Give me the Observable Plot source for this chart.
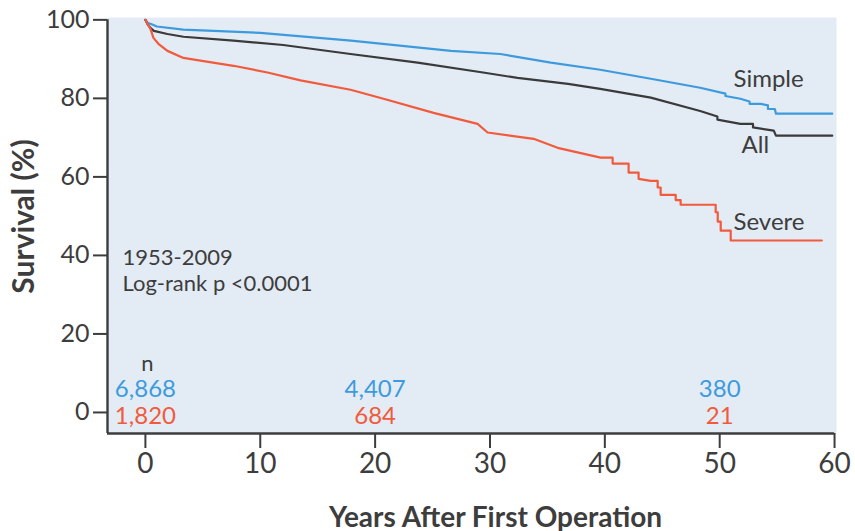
<!DOCTYPE html>
<html>
<head>
<meta charset="utf-8">
<script src="https://cdn.jsdelivr.net/npm/d3@7"></script>
<script src="https://cdn.jsdelivr.net/npm/@observablehq/plot@0.6"></script>
<style>
  html, body { margin: 0; padding: 0; background: #ffffff; }
  #chart svg { display: block; }
</style>
</head>
<body>
<div id="chart"></div>
<script>
// ---- Data (years after first operation, survival %) ----
const simpleYears = [0, 0.2, 0.44, 1, 3.3, 10, 17.9, 26.6, 30.9, 35.3, 39.6, 44.0, 48.3, 50.5, 50.5, 51.8, 52.6, 52.6, 53.6, 54.2, 54.2, 54.8, 54.9, 59.8];
const simpleSurv  = [100, 99.2, 99.0, 98.3, 97.5, 96.7, 94.7, 92.1, 91.3, 89.1, 87.3, 85.0, 82.7, 81.2, 80.6, 79.9, 79.2, 78.6, 78.6, 78.2, 77.3, 77.3, 76.1, 76.1];

const allYears = [0, 0.2, 0.44, 0.73, 1.92, 3.31, 7.67, 12.0, 17.86, 23.7, 29.4, 32.4, 36.8, 39.6, 44.0, 48.3, 49.8, 49.8, 51.8, 52.9, 52.9, 54.7, 54.9, 59.8];
const allSurv  = [100, 98.8, 98.0, 97.2, 96.4, 95.7, 94.7, 93.6, 91.3, 89.1, 86.6, 85.2, 83.7, 82.4, 80.2, 76.8, 75.4, 74.6, 73.5, 73.5, 72.6, 71.8, 70.5, 70.5];

const severeYears = [0, 0.44, 0.70, 1.13, 1.92, 3.31, 4.79, 7.67, 10.63, 13.5, 17.86, 20.73, 25.09, 28.92, 29.79, 33.80, 35.89, 39.63,
                     40.68, 40.68, 42.07, 42.07, 42.94, 42.94, 43.99, 44.60, 44.60, 44.86, 44.86, 46.17, 46.17, 46.60, 46.60,
                     49.65, 49.65, 49.83, 49.83, 50.09, 50.09, 50.96, 50.96, 58.89];
const severeSurv  = [100, 97.7, 95.4, 93.9, 92.1, 90.3, 89.6, 88.3, 86.6, 84.6, 82.2, 79.9, 76.3, 73.5, 71.3, 69.7, 67.4, 64.9,
                     64.9, 63.4, 63.4, 61.1, 61.1, 59.5, 59.0, 59.0, 57.3, 57.3, 55.4, 55.4, 54.1, 54.1, 52.9,
                     52.9, 51.0, 51.0, 48.6, 48.6, 46.3, 46.3, 43.8, 43.8];

const seriesNames  = ["Simple", "All", "Severe"];
const seriesColors = ["#3d9bdd", "#3a3a3a", "#f25a3c"];
const labelYears   = [51.2, 51.9, 51.2];
const labelSurv    = [82.8, 66.0, 46.4];

const nYears   = [0, 20, 50];
const nSimple  = ["6,868", "4,407", "380"];
const nSevere  = ["1,820", "684", "21"];

const xTicks = [0, 10, 20, 30, 40, 50, 60];
const yTicks = [0, 20, 40, 60, 80, 100];

const periodText = "1953-2009";
const pText = "Log-rank p <0.0001";
const xTitle = "Years After First Operation";
const yTitle = "Survival (%)";

// ---- Build tables ----
const toRows = (name, ts, ss) => ts.map((t, i) => ({series: name, t, s: ss[i]}));
const curves = [
  ...toRows("Simple", simpleYears, simpleSurv),
  ...toRows("All", allYears, allSurv),
  ...toRows("Severe", severeYears, severeSurv)
];
const labels = seriesNames.map((name, i) => ({name, t: labelYears[i], s: labelSurv[i]}));
const nRows = nYears.map((t, i) => ({t, simple: nSimple[i], severe: nSevere[i]}));

const xMin = -3.3, xMax = 60.17, yMin = -5.36, yMax = 100.6;
const ink = "#3d3d3d";

const chart = Plot.plot({
  width: 855,
  height: 531,
  marginLeft: 107,
  marginRight: 19,
  marginTop: 17,
  marginBottom: 98,
  style: {fontFamily: "Lato, 'Open Sans', sans-serif", color: ink, background: "#ffffff"},
  x: {domain: [xMin, xMax]},
  y: {domain: [yMin, yMax]},
  color: {domain: seriesNames, range: seriesColors},
  marks: [
    Plot.frame({fill: "#e3ebf5", stroke: "none"}),
    Plot.ruleX([xMin], {y1: yMin, y2: 100, stroke: ink, strokeWidth: 2.4}),
    Plot.ruleY([yMin], {x1: xMin, x2: 60, stroke: ink, strokeWidth: 2.4}),
    Plot.axisX({ticks: xTicks, tickSize: 15, tickPadding: 5, fontSize: 28, strokeWidth: 2, label: null, tickFormat: d => String(d)}),
    Plot.axisY({ticks: yTicks, tickSize: 14, tickPadding: 4, fontSize: 25, strokeWidth: 2, label: null, tickFormat: d => String(d)}),
    Plot.line(curves, {x: "t", y: "s", z: "series", stroke: "series", strokeWidth: 2.2, curve: "linear"}),
    Plot.text(labels, {x: "t", y: "s", text: "name", textAnchor: "start", lineAnchor: "bottom", fontSize: 24, fill: ink}),
    Plot.text([periodText + "\n" + pText], {frameAnchor: "top-left", dx: 15, dy: 273.7, textAnchor: "start", lineAnchor: "bottom", lineHeight: 1.17, fontSize: 22, fill: ink}),
    Plot.text(["n"], {frameAnchor: "bottom", x: () => 0, dx: 2, dy: -63, lineAnchor: "bottom", fontSize: 22, fill: ink}),
    Plot.text(nRows, {frameAnchor: "bottom", x: "t", text: "simple", dy: -36.3, lineAnchor: "bottom", fontSize: 24, fill: seriesColors[0]}),
    Plot.text(nRows, {frameAnchor: "bottom", x: "t", text: "severe", dy: -10, lineAnchor: "bottom", fontSize: 24, fill: seriesColors[2]}),
    Plot.text([xTitle], {frameAnchor: "bottom", dx: 23.5, dy: 93, textAnchor: "middle", lineAnchor: "bottom", fontSize: 28, fontWeight: "bold", fill: ink}),
    Plot.text([yTitle], {frameAnchor: "left", dx: -73.5, dy: -9, rotate: -90, textAnchor: "middle", lineAnchor: "bottom", fontSize: 30, fontWeight: "bold", fill: ink})
  ]
});
document.getElementById("chart").appendChild(chart);
</script>
</body>
</html>
